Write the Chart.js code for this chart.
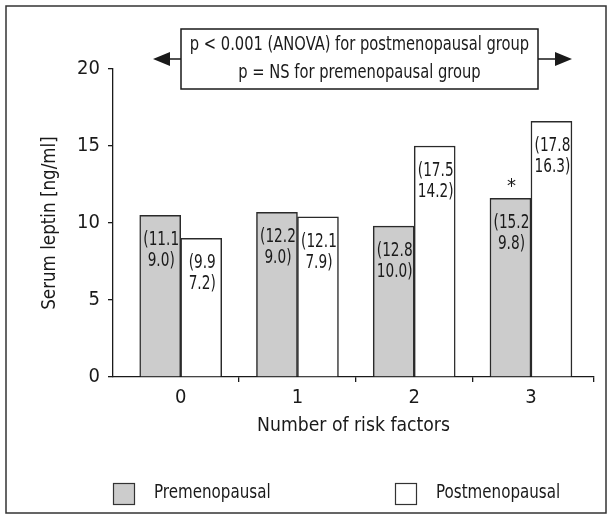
<!DOCTYPE html>
<html>
<head>
<meta charset="utf-8">
<script src="https://cdn.jsdelivr.net/npm/chart.js@4"></script>
<style>
  html, body { margin: 0; padding: 0; background: #fff; }
  #wrap { width: 613px; height: 520px; }
</style>
</head>
<body>
<div id="wrap"><canvas id="leptin" width="613" height="520"></canvas></div>
<script>
const categories = ['0', '1', '2', '3'];
const preValues = [10.5, 10.7, 9.8, 11.6];
const postValues = [9.0, 10.4, 15.0, 16.6];
// ranges printed inside the bars
const preLabels = [['(11.1', '9.0)'], ['(12.2', '9.0)'], ['(12.8', '10.0)'], ['(15.2', '9.8)']];
const postLabels = [['(9.9', '7.2)'], ['(12.1', '7.9)'], ['(17.5', '14.2)'], ['(17.8', '16.3)']];
const preMarks = ['', '', '', '*'];
const yTicks = [0, 5, 10, 15, 20];
const noteLines = ['p < 0.001 (ANOVA) for postmenopausal group', 'p = NS for premenopausal group'];
const seriesNames = ['Premenopausal', 'Postmenopausal'];

const FONT = "'DejaVu Sans Condensed', 'Liberation Sans', sans-serif";
const INK = '#1a1a1a';
const X_MIN = -0.58;
const X_MAX = 3.54;

// draw text squeezed horizontally, the original uses a narrow face
function narrowText(ctx, text, x, y, squeeze) {
  ctx.save();
  ctx.translate(x, y);
  ctx.scale(squeeze, 1);
  ctx.fillText(text, 0, 0);
  ctx.restore();
}

const extras = {
  id: 'extras',
  afterDatasetsDraw(chart) {
    const ctx = chart.ctx;
    ctx.save();
    ctx.fillStyle = INK;
    ctx.textAlign = 'center';
    ctx.textBaseline = 'middle';
    const labelSets = [preLabels, postLabels];
    chart.data.datasets.forEach((ds, d) => {
      const meta = chart.getDatasetMeta(d);
      meta.data.forEach((bar, i) => {
        const lines = labelSets[d][i];
        ctx.font = '19px ' + FONT;
        narrowText(ctx, lines[0], bar.x + 1, bar.y + 25, 0.8);
        narrowText(ctx, lines[1], bar.x + 1, bar.y + 46, 0.8);
        if (d === 0 && preMarks[i]) {
          ctx.font = '20px ' + FONT;
          ctx.fillText(preMarks[i], bar.x + 1, bar.y - 12);
        }
      });
    });

    // note box with arrows
    ctx.strokeStyle = INK;
    ctx.lineWidth = 1.5;
    ctx.strokeRect(181, 29, 357, 60);
    ctx.font = '20px ' + FONT;
    narrowText(ctx, noteLines[0], 359.5, 45, 0.817);
    narrowText(ctx, noteLines[1], 359.5, 73, 0.817);
    ctx.beginPath();
    ctx.moveTo(165, 59); ctx.lineTo(181, 59);
    ctx.moveTo(538, 59); ctx.lineTo(558, 59);
    ctx.stroke();
    ctx.beginPath();
    ctx.moveTo(153, 59); ctx.lineTo(170, 52); ctx.lineTo(170, 66); ctx.closePath();
    ctx.moveTo(572, 59); ctx.lineTo(555, 52); ctx.lineTo(555, 66); ctx.closePath();
    ctx.fill();

    // legend
    const boxes = [113, 395];
    ctx.textAlign = 'left';
    chart.data.datasets.forEach((ds, d) => {
      ctx.fillStyle = ds.backgroundColor;
      ctx.fillRect(boxes[d], 483, 21, 21);
      ctx.strokeStyle = '#333';
      ctx.lineWidth = 1.2;
      ctx.strokeRect(boxes[d] + 0.5, 483.5, 21, 21);
      ctx.fillStyle = INK;
      narrowText(ctx, ds.label, boxes[d] + 41, 493, 0.84);
    });

    // outer frame
    ctx.strokeStyle = '#333';
    ctx.lineWidth = 1.5;
    ctx.strokeRect(6, 6, 600, 507);
    ctx.restore();
  }
};

new Chart(document.getElementById('leptin'), {
  type: 'bar',
  data: {
    datasets: [
      {
        label: seriesNames[0],
        data: preValues.map((v, i) => ({ x: i, y: v })),
        backgroundColor: '#cccccc',
        borderColor: '#2a2a2a',
        borderWidth: 1.5,
        barThickness: 41
      },
      {
        label: seriesNames[1],
        data: postValues.map((v, i) => ({ x: i, y: v })),
        backgroundColor: '#ffffff',
        borderColor: '#2a2a2a',
        borderWidth: 1.5,
        barThickness: 41
      }
    ]
  },
  options: {
    responsive: false,
    animation: false,
    events: [],
    layout: { padding: { left: 0, right: 19, top: 69, bottom: 0 } },
    plugins: { legend: { display: false }, tooltip: { enabled: false } },
    scales: {
      x: {
        type: 'linear',
        offset: false,
        min: X_MIN,
        max: X_MAX,
        afterFit(scale) { scale.height = 143; },
        afterBuildTicks(scale) {
          // labels on the categories, tick marks between them
          const vals = [];
          categories.forEach((c, i) => { vals.push(i); if (i < categories.length - 1) vals.push(i + 0.5); });
          vals.push(X_MAX);
          scale.ticks = vals.map(v => ({ value: v }));
        },
        grid: {
          display: true,
          offset: false,
          drawOnChartArea: false,
          tickLength: 5,
          lineWidth: 1.3,
          color: (c) => (c.tick && Number.isInteger(c.tick.value)) ? 'rgba(0,0,0,0)' : INK
        },
        border: { display: true, color: INK, width: 1.3 },
        ticks: {
          autoSkip: false,
          maxRotation: 0,
          color: INK,
          padding: 4,
          font: { family: FONT, size: 20 },
          callback: (v) => Number.isInteger(v) ? categories[v] : ''
        },
        title: {
          display: true,
          text: 'Number of risk factors',
          color: INK,
          font: { family: FONT, size: 19.2 },
          padding: { top: 0, bottom: 82 }
        }
      },
      y: {
        min: 0,
        max: 20,
        afterFit(scale) { scale.width = 113; },
        afterBuildTicks(scale) { scale.ticks = yTicks.map(v => ({ value: v })); },
        grid: { display: true, drawOnChartArea: false, tickLength: 5, color: INK, lineWidth: 1.3 },
        border: { display: true, color: INK, width: 1.3 },
        ticks: { color: INK, padding: 8, font: { family: FONT, size: 20 } },
        title: {
          display: true,
          text: 'Serum leptin [ng/ml]',
          color: INK,
          font: { family: FONT, size: 18.6 },
          padding: { top: 39, bottom: 0 }
        }
      }
    }
  },
  plugins: [extras]
});
</script>
</body>
</html>
